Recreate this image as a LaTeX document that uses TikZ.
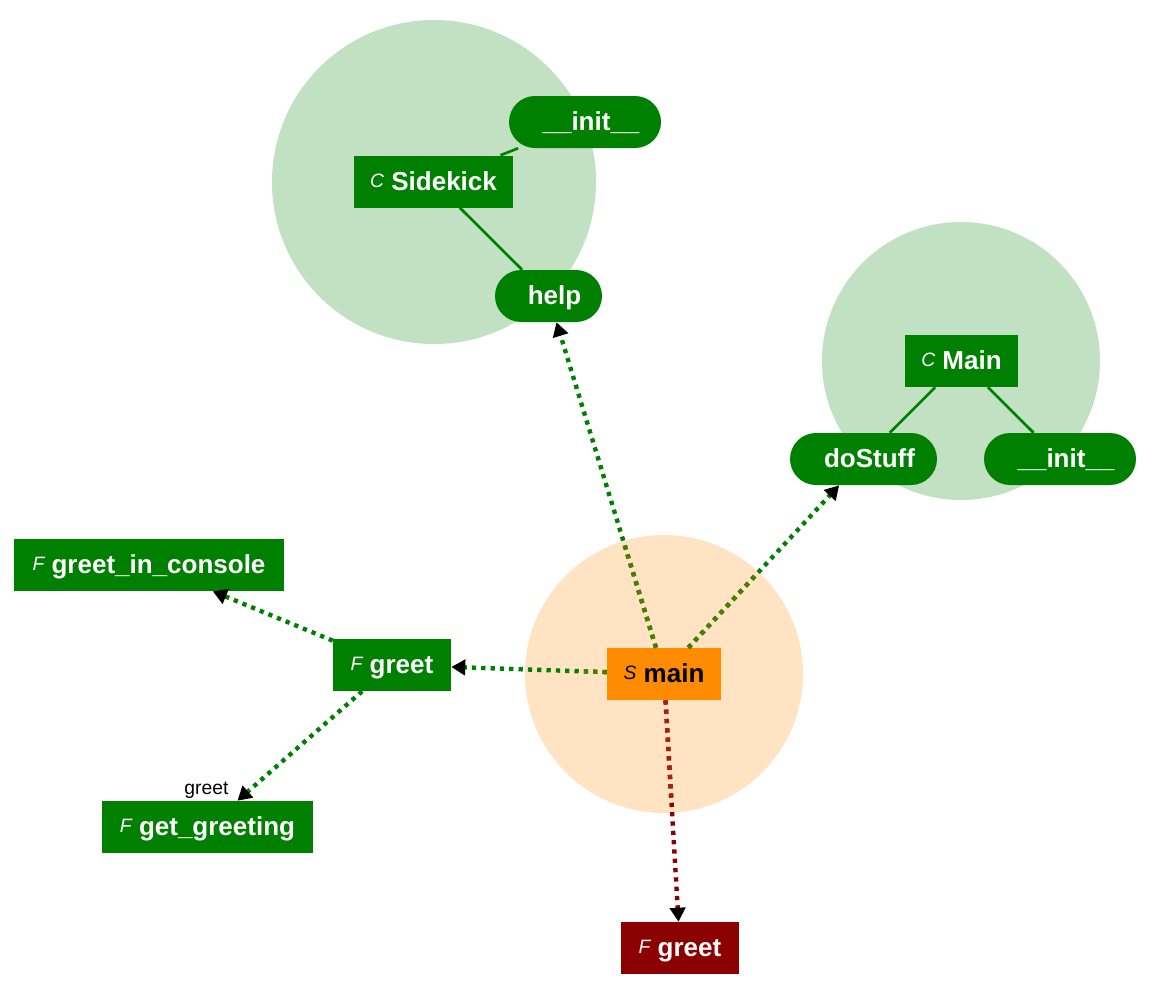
\documentclass[tikz,border=0pt]{standalone}
\usepackage{fontspec}
\setmainfont{Liberation Sans}
\usetikzlibrary{arrows.meta,calc}
\definecolor{fgreen}{HTML}{008000}
\definecolor{lgreen}{HTML}{C2E0C2}
\definecolor{forange}{HTML}{FF8C00}
\definecolor{lorange}{HTML}{FFE3C2}
\definecolor{dred}{HTML}{8B0000}
\definecolor{olivegreen}{HTML}{4A7D00}
\definecolor{brred}{HTML}{A8200A}
\newcommand\pfx[1]{\raisebox{2pt}{\fontsize{14.5}{17}\selectfont\mdseries\itshape #1}}
\newcommand\pillpad{\hspace*{9pt}}
\begin{document}
\begin{tikzpicture}[x=0.75pt,y=-0.75pt,
  cluster/.style={circle, inner sep=0pt, draw=none},
  box/.style={rectangle, inner sep=0pt, text=white, font=\fontsize{19.5}{22}\selectfont\bfseries,
    minimum height=52*0.75pt, text height=14pt, text depth=1.25pt},
  gbox/.style={box, fill=fgreen},
  pill/.style={box, fill=fgreen, rounded corners=19.5pt},
  tree/.style={draw=fgreen, line width=2pt},
  call/.style={draw=fgreen, line width=3.3pt, dash pattern=on 3.2pt off 3.8pt,
    -{Triangle[length=10.5pt,width=11.5pt,black]}},
  callnear/.style={draw=olivegreen, line width=3.3pt, dash pattern=on 3.2pt off 3.8pt},
  elabel/.style={inner sep=0pt, text=black, font=\fontsize{14.5}{17}\selectfont}
]
\useasboundingbox (0,0) rectangle (1159,990);

% clusters
\node[cluster, fill=lgreen, minimum size=324*0.75pt] (sidekickbg) at (434,182) {};
\node[cluster, fill=lgreen, minimum size=278*0.75pt] (mainbg) at (961,361) {};
\node[cluster, fill=lorange, minimum size=278*0.75pt] (scriptbg) at (664,674) {};

% nodes
\node[gbox, minimum width=159*0.75pt] (sidekick) at (433.5,181.5) {\pfx{C} Sidekick};
\node[pill, minimum width=152*0.75pt] (sinit) at (585,122) {\pillpad\_\_init\_\_};
\node[pill, minimum width=107*0.75pt] (shelp) at (548.5,296) {\pillpad help};
\node[gbox, minimum width=113*0.75pt] (mainc) at (961.5,361) {\pfx{C} Main};
\node[pill, minimum width=147*0.75pt] (dostuff) at (863.5,459) {\pillpad doStuff};
\node[pill, minimum width=152*0.75pt] (minit) at (1060,459) {\pillpad\_\_init\_\_};
\node[box, fill=forange, text=black, minimum width=114*0.75pt] (main) at (664,674) {\pfx{S} main};
\node[gbox, minimum width=118*0.75pt] (greetf) at (392,665) {\pfx{F} greet};
\node[gbox, minimum width=270*0.75pt] (console) at (149,565) {\pfx{F} greet\_in\_console};
\node[gbox, minimum width=211*0.75pt] (getg) at (207.5,827) {\pfx{F} get\_greeting};
\node[box, fill=dred, minimum width=118*0.75pt] (greetx) at (680,948) {\pfx{F} greet};

% structure edges
\draw[tree] (sidekick) -- (sinit);
\draw[tree] (sidekick) -- (shelp);
\draw[tree] (mainc) -- (dostuff);
\draw[tree] (mainc) -- (minit);

% call edges
\draw[call] (main) -- (shelp);
\draw[callnear] (main) -- ($(main)!0.35!(shelp)$);
\draw[call] (main) -- (dostuff);
\draw[callnear] (main) -- ($(main)!0.47!(dostuff)$);
\draw[call] (main) -- (greetf);
\draw[callnear] (main) -- ($(main)!0.3!(greetf)$);
\draw[call, draw=dred] (main) -- (greetx);
\draw[callnear, draw=brred] (main) -- ($(main)!0.45!(greetx)$);
\draw[call] (greetf) -- (console);
\draw[call] (greetf) -- node[elabel, pos=1, anchor=south east, xshift=-5pt] {greet} (getg);
\end{tikzpicture}
\end{document}
